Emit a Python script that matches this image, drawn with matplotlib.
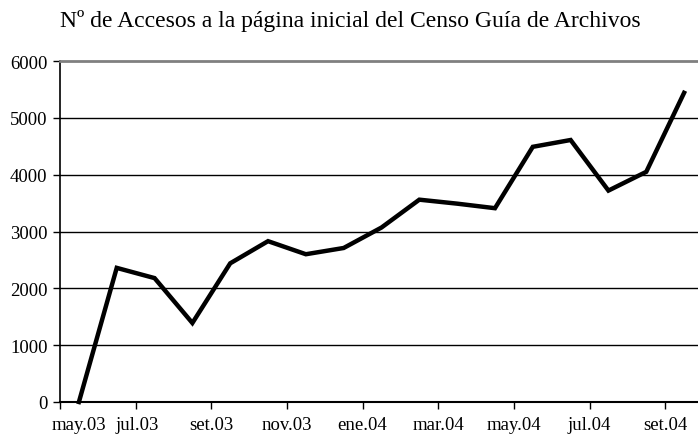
import numpy as np
import matplotlib
matplotlib.use("Agg")
import matplotlib.pyplot as plt

# accesos mensuales, may.03 - set.04
months = ["may.03", "jun.03", "jul.03", "ago.03", "set.03", "oct.03", "nov.03",
          "dic.03", "ene.04", "feb.04", "mar.04", "abr.04", "may.04", "jun.04",
          "jul.04", "ago.04", "set.04"]
accesses = [0, 2360, 2180, 1390, 2440, 2830, 2600, 2710, 3070, 3560, 3490,
            3410, 4490, 4610, 3720, 4050, 5440]
shown_labels = ["may.03", "jul.03", "set.03", "nov.03", "ene.04", "mar.04",
                "may.04", "jul.04", "set.04"]
y_ticks = [0, 1000, 2000, 3000, 4000, 5000, 6000]
title = "Nº de Accesos a la página inicial del Censo Guía de Archivos"

plt.rcParams["font.family"] = ["Liberation Serif", "DejaVu Serif"]

W, H = 698, 435
fig = plt.figure(figsize=(W / 100, H / 100), dpi=100)
left, right, bottom, top = 60, 703, 403, 62
ax = fig.add_axes([left / W, (H - bottom) / H, (right - left) / W, (bottom - top) / H])

x = np.arange(len(months))
ax.plot(x, accesses, color="black", lw=3.2, solid_joinstyle="miter", zorder=3,
        clip_on=False)

ax.set_xlim(-0.5, len(months) - 0.5)
ax.set_ylim(0, 6000)

# tick marks between categories, every second month
ax.xaxis.remove_overlapping_locs = False
major = np.arange(-0.5, len(months) - 0.5, 2)
ax.set_xticks(major)
ax.set_xticklabels([])
ax.tick_params(axis="x", which="major", length=5, width=1, direction="out")

label_pos = [0, 1.55] + list(major[2:])
ax.set_xticks(label_pos, minor=True)
ax.set_xticklabels(shown_labels, minor=True, fontsize=13.5)
ax.tick_params(axis="x", which="minor", length=0, pad=10)

ax.set_yticks(y_ticks)
ax.set_yticklabels([str(v) for v in y_ticks], fontsize=13.5)
ax.tick_params(axis="y", length=5, width=1, direction="out", pad=4)

for v in y_ticks[1:-1]:
    ax.axhline(v, color="black", lw=1, zorder=1)

ax.spines["left"].set_linewidth(1.2)
ax.spines["bottom"].set_linewidth(1.5)
ax.spines["top"].set_color("#808080")
ax.spines["top"].set_linewidth(2)
ax.spines["right"].set_visible(False)

fig.text(350 / W, 1 - 27 / H, title, ha="center", va="baseline", fontsize=17)

fig.savefig("out.png", dpi=100)
